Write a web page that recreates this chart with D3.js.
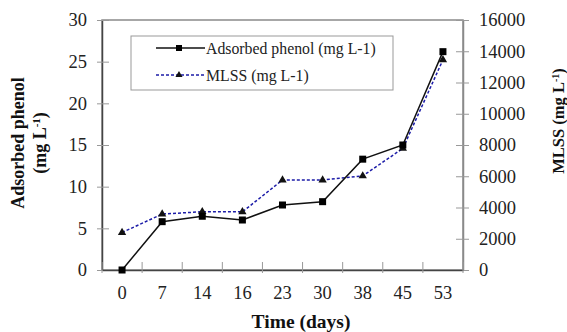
<!DOCTYPE html>
<html>
<head>
<meta charset="utf-8">
<script src="https://cdn.jsdelivr.net/npm/d3@7"></script>
<style>
  body { margin: 0; background: #fff; }
  svg text { font-family: "Liberation Serif", "Times New Roman", serif !important; }
</style>
</head>
<body>
<svg id="chart" width="567" height="332"></svg>
<script>
const width = 567;
const height = 332;
const margin = { top: 20, right: 104, bottom: 62, left: 102 };

// data
const days = ["0", "7", "14", "16", "23", "30", "38", "45", "53"];
const phenol = [0, 5.8, 6.45, 6.0, 7.8, 8.2, 13.3, 15.0, 26.2];
const mlss = [2400, 3580, 3730, 3720, 5760, 5760, 6020, 7780, 13450];
const leftTicks = [0, 5, 10, 15, 20, 25, 30];
const rightTicks = [0, 2000, 4000, 6000, 8000, 10000, 12000, 14000, 16000];

const svg = d3.select("#chart");
const plotW = width - margin.left - margin.right;
const plotH = height - margin.top - margin.bottom;

const x = d3.scaleBand()
    .domain(days)
    .range([margin.left, margin.left + plotW]);

const yL = d3.scaleLinear()
    .domain([0, 30])
    .range([margin.top + plotH, margin.top]);

const yR = d3.scaleLinear()
    .domain([0, 16000])
    .range([margin.top + plotH, margin.top]);

const cx = d => x(d) + x.bandwidth() / 2;

// frame
svg.append("rect")
    .attr("x", margin.left)
    .attr("y", margin.top)
    .attr("width", plotW)
    .attr("height", plotH)
    .attr("fill", "none")
    .attr("stroke", "#8a8a8a")
    .attr("stroke-width", 1.5);

// left axis
const left = svg.append("g")
    .attr("transform", `translate(${margin.left},0)`)
    .call(d3.axisLeft(yL).tickValues(leftTicks).tickSize(0).tickPadding(15));
left.select(".domain").attr("stroke", "#444").attr("stroke-width", 1.5);
left.selectAll("text").attr("font-size", 18.5).attr("fill", "#222");
left.selectAll(".tick").append("line")
    .attr("x1", -5).attr("x2", 7)
    .attr("stroke", "#999").attr("stroke-width", 1);

// right axis
const right = svg.append("g")
    .attr("transform", `translate(${margin.left + plotW},0)`)
    .call(d3.axisRight(yR).tickValues(rightTicks).tickFormat(d3.format("d")).tickSize(0).tickPadding(16));
right.select(".domain").attr("stroke", "#8a8a8a").attr("stroke-width", 1.5);
right.selectAll("text").attr("font-size", 18.5).attr("fill", "#222");
right.selectAll(".tick").append("line")
    .attr("x1", -7).attr("x2", 6)
    .attr("stroke", "#999").attr("stroke-width", 1);

// bottom axis
const bottom = svg.append("g")
    .attr("transform", `translate(0,${margin.top + plotH})`)
    .call(d3.axisBottom(x).tickSize(0).tickPadding(16));
bottom.select(".domain").attr("stroke", "#444").attr("stroke-width", 1.5);
bottom.selectAll("text").attr("font-size", 18.5).attr("fill", "#222");

// x tick marks sit on the band boundaries
const edges = days.map(d => x(d)).concat([x.range()[1]]);
svg.append("g")
    .selectAll("line")
    .data(edges)
    .enter()
    .append("line")
    .attr("x1", d => d).attr("x2", d => d)
    .attr("y1", margin.top + plotH - 8)
    .attr("y2", margin.top + plotH + 3)
    .attr("stroke", "#999");

// MLSS series
svg.append("path")
    .datum(mlss)
    .attr("fill", "none")
    .attr("stroke", "#1c1ca8")
    .attr("stroke-width", 1.5)
    .attr("stroke-dasharray", "3,2")
    .attr("d", d3.line().x((d, i) => cx(days[i])).y(d => yR(d)));

svg.append("g")
    .selectAll("path")
    .data(mlss)
    .enter()
    .append("path")
    .attr("transform", (d, i) => `translate(${cx(days[i])},${yR(d)})`)
    .attr("d", d3.symbol(d3.symbolTriangle, 30))
    .attr("fill", "#111");

// phenol series
svg.append("path")
    .datum(phenol)
    .attr("fill", "none")
    .attr("stroke", "#111")
    .attr("stroke-width", 1.5)
    .attr("d", d3.line().x((d, i) => cx(days[i])).y(d => yL(d)));

svg.append("g")
    .selectAll("rect")
    .data(phenol)
    .enter()
    .append("rect")
    .attr("x", (d, i) => cx(days[i]) - 3.5)
    .attr("y", d => yL(d) - 3.5)
    .attr("width", 7)
    .attr("height", 7)
    .attr("fill", "#000");

// legend
const legendItems = [
    { label: "Adsorbed phenol (mg L-1)", color: "#111", dash: null, marker: "square" },
    { label: "MLSS (mg L-1)", color: "#1c1ca8", dash: "3,2", marker: "triangle" }
];

const legend = svg.append("g").attr("transform", "translate(131,36)");
legend.append("rect")
    .attr("width", 262)
    .attr("height", 54)
    .attr("fill", "#fff")
    .attr("stroke", "#999")
    .attr("stroke-width", 1);

const item = legend.selectAll("g.item")
    .data(legendItems)
    .enter()
    .append("g")
    .attr("class", "item")
    .attr("transform", (d, i) => `translate(0,${12 + i * 27})`);

item.append("line")
    .attr("x1", 25).attr("x2", 74)
    .attr("stroke", d => d.color)
    .attr("stroke-width", 1.5)
    .attr("stroke-dasharray", d => d.dash);

item.filter(d => d.marker === "square").append("rect")
    .attr("x", 45).attr("y", -3).attr("width", 6).attr("height", 6).attr("fill", "#000");

item.filter(d => d.marker === "triangle").append("path")
    .attr("transform", "translate(48,0)")
    .attr("d", d3.symbol(d3.symbolTriangle, 22))
    .attr("fill", "#111");

item.append("text")
    .attr("x", 75)
    .attr("dy", "0.35em")
    .attr("font-size", 15.8)
    .attr("fill", "#222")
    .text(d => d.label);

// axis titles
const lt = svg.append("text")
    .attr("transform", "translate(0,143) rotate(-90)")
    .attr("text-anchor", "middle")
    .attr("font-size", 18)
    .attr("font-weight", "bold")
    .attr("fill", "#111");
lt.append("tspan").attr("x", 0).attr("y", 18).attr("dy", "0.35em").text("Adsorbed phenol");
const lt2 = lt.append("tspan").attr("x", 0).attr("y", 40).attr("dy", "0.35em").text("(mg L");
lt2.append("tspan").attr("baseline-shift", "super").attr("font-size", 11).text("-1");
lt.append("tspan").text(")");

const rt = svg.append("text")
    .attr("transform", "translate(558,121) rotate(-90)")
    .attr("text-anchor", "middle")
    .attr("dy", "0.35em")
    .attr("font-size", 16.5)
    .attr("font-weight", "bold")
    .attr("fill", "#111")
    .text("MLSS (mg L");
rt.append("tspan").attr("baseline-shift", "super").attr("font-size", 10).text("-1");
rt.append("tspan").text(")");

svg.append("text")
    .attr("x", 301)
    .attr("y", 328)
    .attr("text-anchor", "middle")
    .attr("font-size", 19.5)
    .attr("font-weight", "bold")
    .attr("fill", "#111")
    .text("Time (days)");
</script>
</body>
</html>
